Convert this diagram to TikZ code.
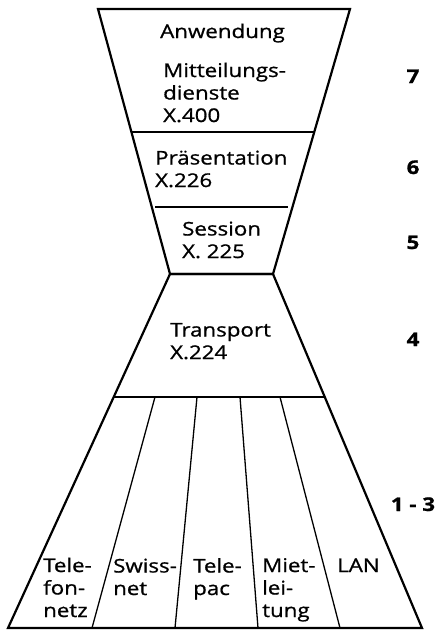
\documentclass[tikz,border=0pt]{standalone}
\usepackage{fontspec}
\setmainfont{Open Sans}[FakeStretch=1.18, FakeBold=0.9]
\usetikzlibrary{calc}
\begin{document}
\begin{tikzpicture}[x=1pt,y=-1pt,
  outline/.style={line width=2.2pt, line join=miter},
  sepline/.style={line width=1.6pt},
  divline/.style={line width=1.3pt},
  lbl/.style={anchor=base west, inner sep=0pt, align=left,
    font=\fontsize{18.9}{22.5}\selectfont},
  num/.style={anchor=base, inner sep=0pt,
    font=\fontsize{18.9}{22.5}\selectfont\bfseries}]
\useasboundingbox (0,0) rectangle (435,630);
% outline corners
\coordinate (tl) at (98,9);
\coordinate (tr) at (350,9);
\coordinate (wl) at (170,274);
\coordinate (wr) at (273,274);
\coordinate (bl) at (8,628);
\coordinate (br) at (422,628);
\draw[outline] (tl) -- (tr) -- (wr) -- (wl) -- cycle;
\draw[outline] (wl) -- (wr) -- (br) -- (bl) -- cycle;
% layer separators
\coordinate (s1l) at ($(tl)!0.4642!(wl)$);
\coordinate (s1r) at ($(tr)!0.4642!(wr)$);
\draw[sepline] (s1l) -- (s1r);
\coordinate (s2l) at (155,207);
\coordinate (s2r) at (288,207);
\draw[sepline] (s2l) -- (s2r);
\coordinate (s3l) at ($(wl)!0.3475!(bl)$);
\coordinate (s3r) at ($(wr)!0.3475!(br)$);
\draw[sepline] (s3l) -- (s3r);
% network dividers
\coordinate (d1t) at (155,397); \coordinate (d1b) at (92,628);
\coordinate (d2t) at (197,397); \coordinate (d2b) at (175,628);
\coordinate (d3t) at (240,397); \coordinate (d3b) at (258,628);
\coordinate (d4t) at (280,397); \coordinate (d4b) at (340,628);
\draw[divline] (d1t) -- (d1b);
\draw[divline] (d2t) -- (d2b);
\draw[divline] (d3t) -- (d3b);
\draw[divline] (d4t) -- (d4b);
% labels (anchored at the baseline of the last line)
\node[lbl] (anw) at (160,38) {Anwendung};
\node[lbl] (mit) at (163,122) {Mitteilungs-\\dienste\\X.400};
\node[lbl] (pra) at (155,187) {Präsentation\\X.226};
\node[lbl] (ses) at (182,258) {Session\\X. 225};
\node[lbl] (tra) at (170,359) {Transport\\X.224};
\node[lbl] (tel) at (43,617) {Tele-\\fon-\\netz};
\node[lbl] (swi) at (113,595) {Swiss-\\net};
\node[lbl] (tpc) at (193,595) {Tele-\\pac};
\node[lbl] (mie) at (262,617) {Miet-\\lei-\\tung};
\node[lbl] (lan) at (337,572) {LAN};
% layer numbers
\node[num] (n7) at (413,83) {7};
\node[num] (n6) at (413,174) {6};
\node[num] (n5) at (413,249) {5};
\node[num] (n4) at (413,346) {4};
\node[num] (n13) at (413,511) {1 - 3};
\end{tikzpicture}
\end{document}
